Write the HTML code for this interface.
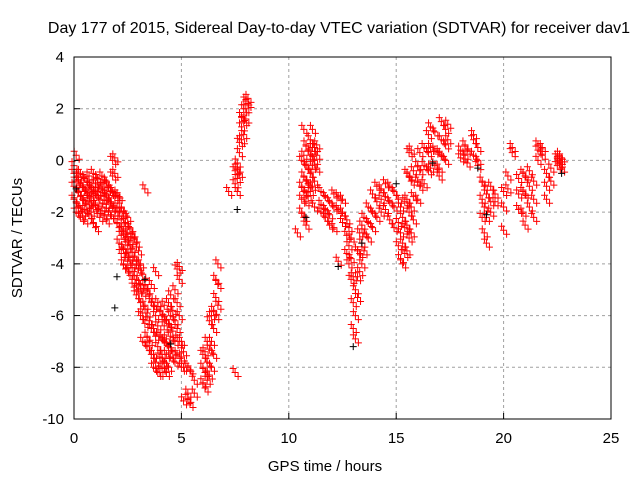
<!DOCTYPE html>
<html><head><meta charset="utf-8"><style>
body{margin:0;background:#fff;}
svg{display:block;font-family:"Liberation Sans",sans-serif;}
</style></head><body>
<svg id="chart" width="640" height="480">
<text x="339" y="33" font-size="16" text-anchor="middle" fill="#000">Day 177 of 2015, Sidereal Day-to-day VTEC variation (SDTVAR) for receiver dav1</text>
<g id="grid"></g>
<g id="ticks"></g>
<g id="red"></g>
<g id="black"></g>
<rect x="74" y="57" width="537" height="362" fill="none" stroke="#000" stroke-width="1"/>
<text x="325" y="471" font-size="15" text-anchor="middle">GPS time / hours</text>
<text x="22" y="238" font-size="15" text-anchor="middle" transform="rotate(-90 22 238)">SDTVAR / TECUs</text>
</svg>
<script>
const xTicks=[0,5,10,15,20,25];
const yTicks=[4,2,0,-2,-4,-6,-8,-10];
const redTimes=[0,0.1,0.2,0.3,0.4,0.5,0.6,0.7,0.8,0.9,1.0,1.1,1.2,1.3,1.4,1.5,1.6,1.7,1.8,1.9,2.0,2.1,2.2,2.3,2.4,2.5,2.6,2.7,2.8,2.9,3.0,3.1,3.2,3.3,3.4,3.5,3.6,3.7,3.8,3.9,4.0,4.1,4.2,4.3,4.4,4.5,4.6,4.7,4.8,4.9,5.0,5.1,5.3,5.4,5.6,6.0,6.1,6.2,6.3,6.4,6.5,6.6,6.7,7.2,7.5,7.6,7.7,7.8,7.9,8.0,8.1,
10.4,10.6,10.7,10.8,10.9,11.0,11.1,11.2,11.3,11.5,11.7,11.9,12.1,12.3,12.5,12.7,12.8,12.9,13.0,13.1,13.2,13.3,13.4,13.5,13.7,13.9,14.1,14.3,14.5,14.7,14.9,15.1,15.2,15.3,15.4,15.5,15.6,15.7,15.8,16.0,16.1,16.3,16.5,16.6,16.8,17.0,17.1,17.3,17.4,18.0,18.2,18.3,18.6,18.8,19.0,19.1,19.2,19.4,19.6,20.0,20.2,20.4,20.7,20.9,21.0,21.2,21.4,21.6,21.8,22.0,22.2,22.5,22.6,22.7];
const redValues=[[-0.5,-1,-1.5,-0.2],[0.2,-0.8,-1.6,-2],[-0.6,-1.2,-1.8],[-0.9,-1.4,-2.2,-0.5],[-1,-1.5,-2],[-0.7,-1.2,-1.9,-2.3],[-0.8,-1.3,-1.7],[-0.6,-1.1,-1.6,-2.1],[-1,-1.4,-2],[-0.5,-1.2,-1.8,-2.4],[-0.9,-1.3,-1.7,-2.6],[-0.7,-1.2,-1.9],[-1,-1.5,-2.2],[-0.6,-1.1,-1.8],[-0.9,-1.4,-2.1],[-0.8,-1.3,-1.7,-2.3],[-1,-1.5,-2],[-1.2,-1.6,-2.1],[0,-0.6,-1.2,-1.8],[0.1,-0.5,-1.4,-2],[-1.3,-1.8,-2.4],[-1.4,-2,-2.6,-3.2],[-1.8,-2.3,-2.9,-3.6],[-2,-2.7,-3.4,-4],[-2.4,-3,-3.6,-4.2],[-2.2,-2.8,-3.3,-3.9],[-2.6,-3.1,-3.7,-4.3],[-2.8,-3.4,-4,-4.6],[-3,-3.7,-4.3,-4.9],[-3.2,-3.9,-4.6,-5.2],[-3.5,-4.2,-5],[-4,-4.8,-5.5,-6],[-4.4,-5.1,-5.9,-7],[-1.1,-4.8,-5.6,-6.3],[-5,-5.9,-6.8,-7.2],[-5.2,-6.2,-7],[-4.8,-5.5,-6.5,-7.5],[-5.6,-6.5,-7.5,-8],[-4.3,-6,-6.8,-7.8],[-5.5,-6.4,-7.2,-8.2],[-5.8,-6.8,-7.6,-8.2],[-6,-6.9,-7.5,-8],[-5.6,-6.4,-7,-7.8],[-6.2,-6.9,-7.5,-8.2],[-5.5,-6.3,-7.2,-8],[-5.2,-6,-6.8,-7.6],[-5.8,-6.6,-7.4],[-5,-6.2,-7,-7.8],[-4.2,-5.5,-6.5,-7.5],[-4.1,-4.6,-6,-7],[-7,-7.6,-8],[-7.4,-8,-9.3],[-8,-9,-9.2],[-8.1,-9.4],[-8.5,-9],[-7.5,-8,-8.6],[-7.4,-8.2,-8.8],[-7,-7.8,-8.5],[-6.2,-7.3,-8.3],[-6,-7,-8],[-5.8,-6.5,-7.5],[-4.6,-5.3,-6],[-4,-4.8,-5.6],[-1.2],[-8.2,-0.4,-0.9],[-0.3,-0.7,-1.2,-0.1],[0.3,0.7,-0.5],[0.8,1.3,1.7],[1,1.5,2],[1.6,2,2.3],[2.2,2.4],
[-2.8],[0,-1,-1.5,-2],[1.2,0.2,-0.6,-1.2,-2.2],[0.6,-0.2,-0.8,-1.6,-2.5],[0.4,-0.3,-0.9,-1.4],[0.8,0.2,-0.5,-1.2],[1.2,0.5,-0.2,-1],[0.5,0,-0.8,-1.8],[0.6,0.2,-0.3],[-1.2,-1.7,-2],[-1.4,-1.9,-2.2],[-1.6,-2.1,-2.5],[-1.3,-1.8,-2.6],[-1.4,-1.9,-3.9],[-1.5,-2,-2.4],[-2.3,-2.9,-3.6],[-2.6,-3.3,-4],[-3,-3.8,-4.6],[-4.5,-5.5,-6.5],[-5,-6,-6.9],[-3.5,-4.5,-5.3],[-2.8,-3.6,-4.3],[-2.5,-3.2,-4],[-2.2,-2.8,-3.5],[-1.8,-2.4,-3],[-1.3,-2,-2.6],[-1,-1.6,-2.2],[-1.1,-1.5,-2],[-0.9,-1.4,-1.9],[-1,-1.6,-2.3],[-1.2,-1.8,-2.6],[-1.5,-2.4,-3.3],[-1.8,-2.8,-3.8],[-2.2,-3.2,-4],[-1.6,-2.6,-3.6],[-0.5,-1.5,-2.5,-3.5],[0.3,-0.6,-2,-3],[0.4,-0.8,-1.8,-2.8],[-0.4,-1.4,-2.3],[-0.2,-0.8,-1.5],[0.3,-0.4,-1],[0.5,-0.2,-0.9],[1,0.3,-0.4],[1.3,0.5,-0.3],[1.1,0.4,-0.2],[0.3,-0.3,-0.6],[1.5,0.8,0.2],[1.2,0.6,0],[1.4,0.8],[0.1,0.4],[0.2,0.6],[0.4,-0.1],[0.2,0.8,1],[0,0.5,-0.2],[-0.8,-1.5,-2.2],[-1,-1.8,-2.8],[-1.3,-2.2,-3.2],[-1,-1.6,-2],[-1.3,-1.6],[-1.2,-1.8,-2.7],[-0.6,-1.1],[0.3,0.5],[-0.7,-1.3,-1.9],[-0.5,-1.2,-2],[-0.6,-1.3,-2.5],[-0.4,-1,-1.8],[-0.8,-1.5,-2.2],[0,0.4,0.6],[0.2,0.5],[-0.5,-1,-1.5],[-0.3,-0.8],[-0.2,0.1],[0,0.2,-0.1],[-0.3,0.1]];
const blackTimes=[0.1,1.9,2.0,3.3,4.5,7.6,10.8,12.3,13.0,13.4,15.0,16.7,18.8,19.2,22.7];
const blackValues=[-1.1,-5.7,-4.5,-4.6,-7.1,-1.9,-2.2,-4.1,-7.2,-3.2,-0.9,-0.1,-0.3,-2.1,-0.5];
const NS='http://www.w3.org/2000/svg';
const L=74,R=611,T=57,B=419;
function xs(t){return L+(t-0)/(25-0)*(R-L);}
function ys(v){return B-(v+10)/14*(B-T);}
function mk(tag,attrs,parent){const e=document.createElementNS(NS,tag);for(const k in attrs)e.setAttribute(k,attrs[k]);parent.appendChild(e);return e;}
const grid=document.getElementById('grid'),ticks=document.getElementById('ticks');
xTicks.forEach(t=>{const x=xs(t);
 if(t>0&&t<25){const g=mk('line',{x1:x,x2:x,y1:T,y2:B,stroke:'#a0a0a0','stroke-dasharray':'3,3'},grid);}
 const tk=mk('line',{x1:x,x2:x,y1:B,y2:B-6,stroke:'#000'},ticks);
 const tx=mk('text',{x:x,y:B+24,'font-size':15,'text-anchor':'middle'},ticks);tx.textContent=t;});
yTicks.forEach(v=>{const y=ys(v);
 if(v>-10&&v<4){const g=mk('line',{x1:L,x2:R,y1:y,y2:y,stroke:'#a0a0a0','stroke-dasharray':'3,3'},grid);}
 const tk=mk('line',{x1:L,x2:L+6,y1:y,y2:y,stroke:'#000'},ticks);
 const tx=mk('text',{x:L-10,y:y+5,'font-size':15,'text-anchor':'end'},ticks);tx.textContent=v;});
function plus(x,y,color,parent,name){const p=mk('path',{d:`M${x-3.5},${y}h7M${x},${y-3.5}v7`,stroke:color,'stroke-width':1,fill:'none'},parent);}
const red=document.getElementById('red'),black=document.getElementById('black');
redTimes.forEach((t,i)=>redValues[i].forEach(v=>{plus(xs(t),ys(v),'#ff0000',red,'red-point');plus(xs(t)+3,ys(v)+4,'#ff0000',red,'red-point');plus(xs(t)-2,ys(v)-4,'#ff0000',red,'red-point');}));
blackTimes.forEach((t,i)=>plus(xs(t),ys(blackValues[i]),'#000',black,'black-point'));
</script>
</body></html>
